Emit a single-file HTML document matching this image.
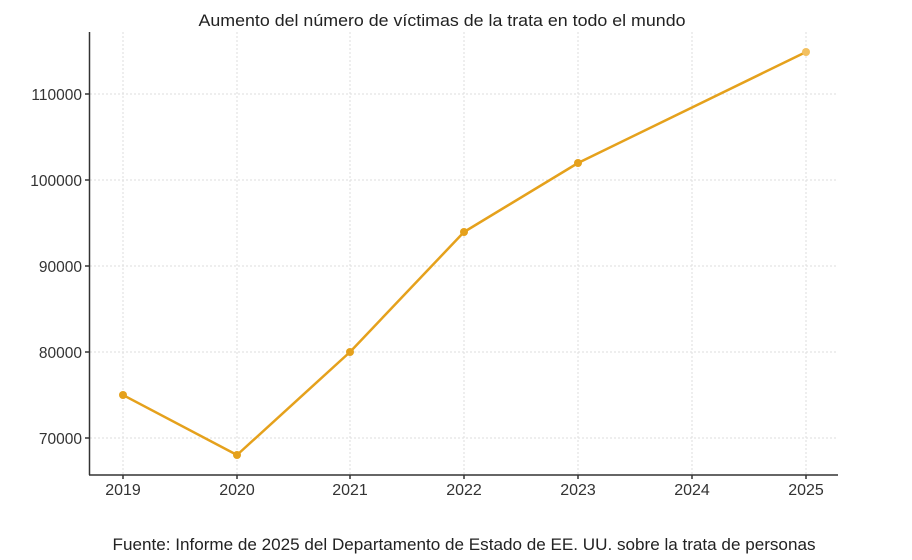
<!DOCTYPE html>
<html><head><meta charset="utf-8"><style>
html,body{margin:0;padding:0;background:#fff;width:912px;height:560px;overflow:hidden}
</style></head><body>
<svg width="912" height="560" xmlns="http://www.w3.org/2000/svg" font-family="Liberation Sans, sans-serif">
<rect width="912" height="560" fill="#fff"/>
<text x="442" y="26" text-anchor="middle" font-size="17" fill="#222" textLength="487" lengthAdjust="spacingAndGlyphs">Aumento del número de víctimas de la trata en todo el mundo</text>
<g stroke="#ddd" stroke-width="1" stroke-dasharray="2,2">
<line x1="123" y1="32" x2="123" y2="475"/><line x1="237" y1="32" x2="237" y2="475"/><line x1="350" y1="32" x2="350" y2="475"/><line x1="464" y1="32" x2="464" y2="475"/><line x1="578" y1="32" x2="578" y2="475"/><line x1="692" y1="32" x2="692" y2="475"/><line x1="806" y1="32" x2="806" y2="475"/>
<line x1="90" y1="94" x2="838" y2="94"/><line x1="90" y1="180" x2="838" y2="180"/><line x1="90" y1="266" x2="838" y2="266"/><line x1="90" y1="352" x2="838" y2="352"/><line x1="90" y1="438" x2="838" y2="438"/>
</g>
<g stroke="#333" stroke-width="1.5">
<line x1="89.5" y1="32" x2="89.5" y2="475"/><line x1="89" y1="475" x2="838" y2="475"/>
<line x1="85" y1="94" x2="89" y2="94"/><line x1="85" y1="180" x2="89" y2="180"/><line x1="85" y1="266" x2="89" y2="266"/><line x1="85" y1="352" x2="89" y2="352"/><line x1="85" y1="438" x2="89" y2="438"/>
<line x1="123" y1="475" x2="123" y2="479"/><line x1="237" y1="475" x2="237" y2="479"/><line x1="350" y1="475" x2="350" y2="479"/><line x1="464" y1="475" x2="464" y2="479"/><line x1="578" y1="475" x2="578" y2="479"/><line x1="692" y1="475" x2="692" y2="479"/><line x1="806" y1="475" x2="806" y2="479"/>
</g>
<g font-size="15.5" fill="#333" text-anchor="end">
<text x="82" y="100">110000</text><text x="82" y="186">100000</text><text x="82" y="272">90000</text><text x="82" y="358">80000</text><text x="82" y="444">70000</text>
</g>
<g font-size="16" fill="#333" text-anchor="middle">
<text x="123" y="495">2019</text><text x="237" y="495">2020</text><text x="350" y="495">2021</text><text x="464" y="495">2022</text><text x="578" y="495">2023</text><text x="692" y="495">2024</text><text x="806" y="495">2025</text>
</g>
<polyline points="123,395 237,455 350,352 464,232 578,163 806,52" fill="none" stroke="#e5a11c" stroke-width="2.5" stroke-linejoin="round"/>
<g fill="#e5a11c">
<circle cx="123" cy="395" r="4"/><circle cx="237" cy="455" r="4"/><circle cx="350" cy="352" r="4"/><circle cx="464" cy="232" r="4"/><circle cx="578" cy="163" r="4"/><circle cx="806" cy="52" r="4" fill="#f2c060"/>
</g>
<text x="464" y="550" text-anchor="middle" font-size="17" fill="#222" textLength="703" lengthAdjust="spacingAndGlyphs">Fuente: Informe de 2025 del Departamento de Estado de EE. UU. sobre la trata de personas</text>
</svg>
</body></html>
